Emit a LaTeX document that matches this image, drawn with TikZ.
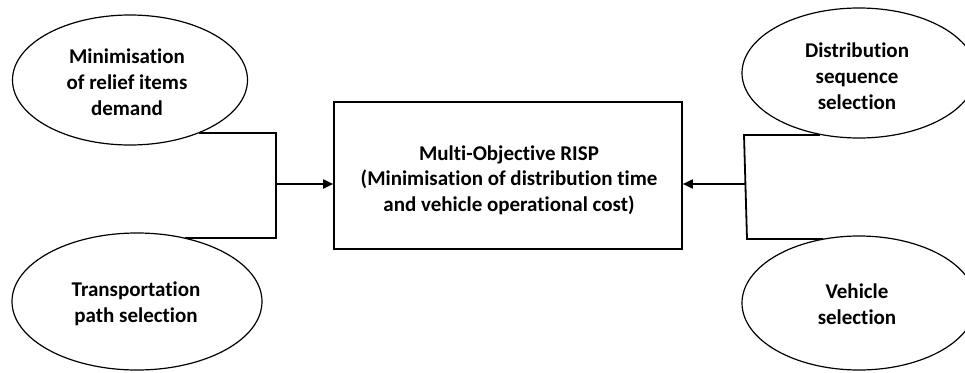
\documentclass[tikz,border=0pt]{standalone}
\usepackage{fontspec}
\setmainfont{Carlito}[Ligatures=NoCommon]
\usetikzlibrary{shapes.geometric,arrows.meta}
\tikzset{
  goal/.style={ellipse, draw, line width=1.2pt, inner sep=0pt},
  goaltext/.style={inner sep=0pt, align=center,
    font=\bfseries\fontsize{21}{26}\selectfont},
  mainbox/.style={rectangle, draw, line width=1.6pt, inner sep=0pt},
  link/.style={line width=1.8pt},
  arr/.style={line width=1.8pt, -{Triangle[length=10pt,width=9pt]}}
}
\begin{document}
\begin{tikzpicture}[x=1pt,y=-1pt]
\useasboundingbox (0,0) rectangle (965,372);
\node[goal, minimum width=235pt, minimum height=130pt] (tl) at (130,80) {};
\node[goaltext] (tlt) at (127,82) {Minimisation\\of relief items\\demand};
\node[goal, minimum width=250pt, minimum height=137pt] (bl) at (137,301.5) {};
\node[goaltext] (blt) at (136,304) {Transportation\\path selection};
\node[goal, minimum width=234pt, minimum height=130pt] (tr) at (859,73) {};
\node[goaltext] (trt) at (857,76) {Distribution\\sequence\\selection};
\node[goal, minimum width=234pt, minimum height=134pt] (br) at (859,303) {};
\node[goaltext] (brt) at (857,304) {Vehicle\\selection};
\node[mainbox, minimum width=348pt, minimum height=147pt] (box) at (508,175.5) {};
\node[goaltext, font=\bfseries\fontsize{21}{25.5}\selectfont] (boxt) at (509,180) {Multi-Objective RISP\\(Minimisation of distribution time\\and vehicle operational cost)};
% left connector
\coordinate (tlend) at (199,133);
\coordinate (blend) at (185,238);
\coordinate (lj1) at (276,133);
\coordinate (lj2) at (276,238);
\coordinate (lm) at (276,184);
\draw[link] (tlend) -- (lj1) -- (lj2) -- (blend);
\draw[arr] (lm) -- (box.west |- lm);
% right connector
\coordinate (trend) at (820,135);
\coordinate (brend) at (823,239);
\coordinate (rj1) at (744,135);
\coordinate (rj2) at (747,239);
\coordinate (rm) at (745.5,184);
\draw[link] (trend) -- (rj1) -- (rj2) -- (brend);
\draw[arr] (rm) -- (box.east |- rm);
\end{tikzpicture}
\end{document}
